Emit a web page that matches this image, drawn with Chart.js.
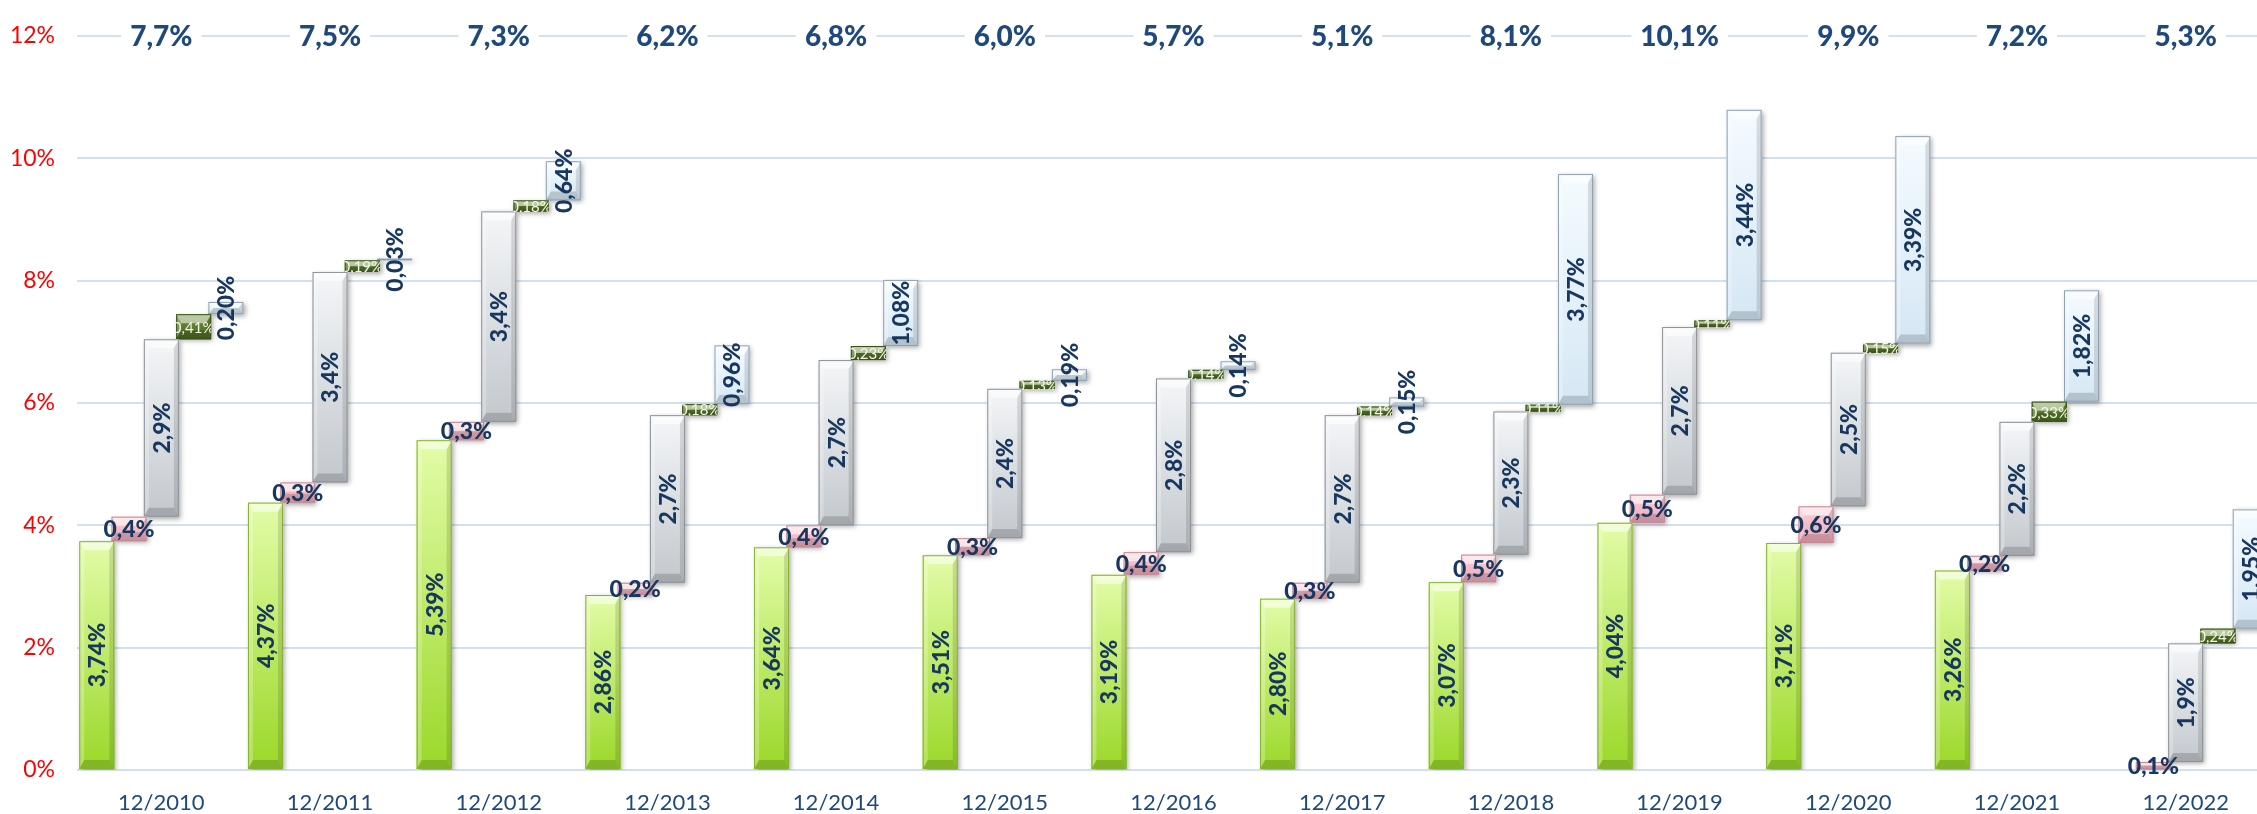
<!DOCTYPE html>
<html><head><meta charset="utf-8">
<script src="https://cdn.jsdelivr.net/npm/chart.js@4.4.1/dist/chart.umd.min.js"></script>
<style>
html,body{margin:0;padding:0;background:#fff;overflow:hidden;width:2257px;height:814px}
#wrap{width:2272px;height:814px;position:relative}
canvas{display:block}
</style></head>
<body><div id="wrap"><canvas id="c" width="2272" height="814"></canvas></div>
<script>
// ---------- DATA ----------
const categories = ['12/2010','12/2011','12/2012','12/2013','12/2014','12/2015','12/2016','12/2017','12/2018','12/2019','12/2020','12/2021','12/2022'];
const greenValues = [3.74, 4.37, 5.39, 2.86, 3.64, 3.51, 3.19, 2.80, 3.07, 4.04, 3.71, 3.26, null];
const pinkValues  = [0.40, 0.33, 0.30, 0.20, 0.36, 0.28, 0.37, 0.26, 0.45, 0.46, 0.60, 0.24, 0.13];
const greyValues  = [2.90, 3.44, 3.44, 2.74, 2.70, 2.44, 2.84, 2.74, 2.34, 2.74, 2.51, 2.19, 1.94];
const oliveValues = [0.41, 0.19, 0.18, 0.18, 0.23, 0.13, 0.14, 0.14, 0.11, 0.11, 0.15, 0.33, 0.24];
const blueValues  = [0.20, 0.03, 0.64, 0.96, 1.08, 0.19, 0.14, 0.15, 3.77, 3.44, 3.39, 1.82, 1.95];
const totalValues = [7.7, 7.5, 7.3, 6.2, 6.8, 6.0, 5.7, 5.1, 8.1, 10.1, 9.9, 7.2, 5.3];
const yTicks = [0, 2, 4, 6, 8, 10, 12];

// ---------- STYLES ----------
const series = [greenValues, pinkValues, greyValues, oliveValues, blueValues];
const styles = [
  {top:'#E3FCA8', bottom:'#9BD82A', border:'#86B233', rotate:true,  dec:2, color:'#17375E', font:'900 23px Lato'},
  {top:'#FAD0D8', bottom:'#F0A8B6', border:'#C38A97', rotate:false, dec:1, color:'#17375E', font:'900 23px Lato'},
  {top:'#F4F6F8', bottom:'#C3C8CD', border:'#8D9399', rotate:true,  dec:1, color:'#17375E', font:'900 23px Lato'},
  {top:'#6F8F3B', bottom:'#4A6921', border:'#3A5219', rotate:false, dec:2, color:'#F1F6E6', font:'15px Lato', clip:true},
  {top:'#F5FBFF', bottom:'#D5E7F4', border:'#8EA1B1', rotate:true,  dec:2, color:'#17375E', font:'900 23px Lato'}
];
const fmt = (v, d) => v.toFixed(d).replace('.', ',') + '%';

// floating [start,end] bars built from the segment arrays
const floating = series.map(() => []);
categories.forEach((c, i) => {
  let acc = 0;
  series.forEach((s, k) => {
    const v = s[i];
    if (v == null) { floating[k].push(null); }
    else { floating[k].push([acc, acc + v]); acc += v; }
  });
});

function rectOf(el) {
  const p = el.getProps(['x','y','base','width'], true);
  const l = p.x - p.width/2, r = p.x + p.width/2;
  const t = Math.min(p.y, p.base), b = Math.max(p.y, p.base);
  return {x:p.x, l, r, t, b, w:r-l, h:b-t, cy:(t+b)/2};
}
function poly(ctx, pts, fill) {
  ctx.beginPath(); ctx.moveTo(pts[0][0], pts[0][1]);
  for (let i = 1; i < pts.length; i++) ctx.lineTo(pts[i][0], pts[i][1]);
  ctx.closePath(); ctx.fillStyle = fill; ctx.fill();
}

const bevelPlugin = {
  id: 'bevel',
  beforeDatasetDraw(chart) {
    const ctx = chart.ctx; ctx.save();
    ctx.shadowColor = 'rgba(0,0,0,0.35)'; ctx.shadowBlur = 5; ctx.shadowOffsetX = 2; ctx.shadowOffsetY = 2;
  },
  afterDatasetDraw(chart, args) {
    const ctx = chart.ctx; ctx.restore();
    const st = styles[args.index];
    args.meta.data.forEach((el, i) => {
      if (series[args.index][i] == null) return;
      const R = rectOf(el);
      if (!(R.h > 0)) return;
      const {l, r, t, b, w, h} = R;
      const g = ctx.createLinearGradient(0, t, 0, b);
      g.addColorStop(0, st.top); g.addColorStop(1, st.bottom);
      ctx.save();
      ctx.fillStyle = g; ctx.fillRect(l, t, w, h);
      const sv = Math.min(9, h/2), sh = Math.min(5, w/2);
      poly(ctx, [[l,t],[r,t],[r-sh,t+sv],[l+sh,t+sv]], 'rgba(255,255,255,0.55)');
      poly(ctx, [[l,t],[l+sh,t+sv],[l+sh,b-sv],[l,b]], 'rgba(255,255,255,0.25)');
      poly(ctx, [[r,t],[r-sh,t+sv],[r-sh,b-sv],[r,b]], 'rgba(0,0,0,0.12)');
      poly(ctx, [[l,b],[l+sh,b-sv],[r-sh,b-sv],[r,b]], 'rgba(0,0,0,0.16)');
      ctx.strokeStyle = st.border; ctx.lineWidth = 1;
      ctx.strokeRect(l + 0.5, t + 0.5, w - 1, Math.max(h - 1, 0.5));
      ctx.restore();
    });
  }
};

const labelPlugin = {
  id: 'segLabels',
  afterDatasetsDraw(chart) {
    const ctx = chart.ctx;
    series.forEach((s, k) => {
      const meta = chart.getDatasetMeta(k), st = styles[k];
      meta.data.forEach((el, i) => {
        const v = s[i]; if (v == null) return;
        const R = rectOf(el);
        ctx.save();
        if (st.clip) { ctx.beginPath(); ctx.rect(R.l, R.t - 1, R.w, R.h + 2); ctx.clip(); }
        ctx.font = st.font; ctx.fillStyle = st.color;
        ctx.textAlign = 'center'; ctx.textBaseline = 'middle';
        ctx.translate(R.x, R.cy);
        if (st.rotate) ctx.rotate(-Math.PI/2);
        ctx.fillText(fmt(v, st.dec), 0, 1);
        ctx.restore();
      });
    });
  },
  afterDraw(chart) {
    const ctx = chart.ctx, xS = chart.scales.x, yS = chart.scales.y;
    const y = yS.getPixelForValue(yTicks[yTicks.length - 1]);
    ctx.save();
    ctx.font = '900 28px Lato'; ctx.textAlign = 'center'; ctx.textBaseline = 'middle';
    totalValues.forEach((v, i) => {
      const x = xS.getPixelForValue(i);
      const t = fmt(v, 1), w = ctx.measureText(t).width;
      ctx.fillStyle = '#fff'; ctx.fillRect(x - w/2 - 9, y - 4, w + 18, 8);
      ctx.fillStyle = '#1F497D'; ctx.fillText(t, x, y + 1);
    });
    ctx.restore();
  }
};

new Chart(document.getElementById('c'), {
  type: 'bar',
  data: {
    labels: categories,
    datasets: floating.map((d, k) => ({
      label: 'S' + k, data: d, backgroundColor: styles[k].bottom, borderWidth: 0,
      categoryPercentage: 0.957, barPercentage: 1.084
    }))
  },
  options: {
    responsive: false, animation: false, devicePixelRatio: 1,
    layout: {padding: {top: 23, right: 2, left: 0, bottom: 0}},
    plugins: {legend: {display: false}, tooltip: {enabled: false}},
    scales: {
      x: {
        grid: {display: false, drawTicks: false}, border: {display: false},
        ticks: {color: '#1F497D', font: {family: 'Lato', size: 22}, padding: 20, maxRotation: 0, autoSkip: false},
        afterFit(s) { s.height = 44; }
      },
      y: {
        min: 0, max: 12,
        afterBuildTicks(s) { s.ticks = yTicks.map(v => ({value: v})); },
        ticks: {color: '#FF0000', font: {family: 'Lato', size: 23}, padding: 22, callback: v => v + '%'},
        grid: {color: '#D3E0EF', lineWidth: 2, drawTicks: false}, border: {display: false},
        afterFit(s) { s.width = 77; }
      }
    }
  },
  plugins: [bevelPlugin, labelPlugin]
});
</script>
</body></html>
